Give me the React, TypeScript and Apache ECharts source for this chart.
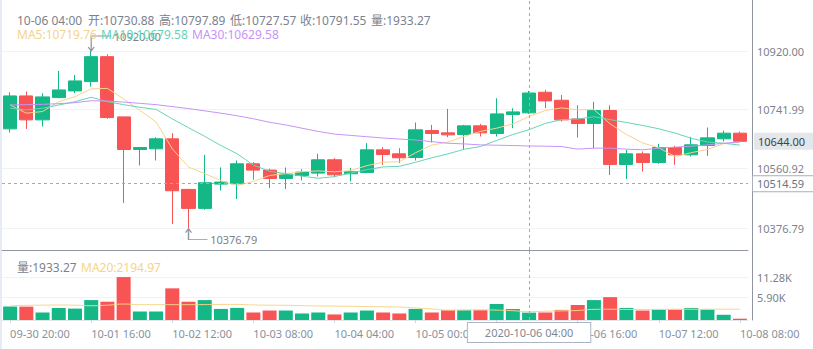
import React, { useEffect, useRef } from "react";
import * as echarts from "echarts";

const categories = [
  "2020-09-30 20:00", "2020-10-01 00:00", "2020-10-01 04:00", "2020-10-01 08:00", "2020-10-01 12:00",
  "2020-10-01 16:00", "2020-10-01 20:00", "2020-10-02 00:00", "2020-10-02 04:00", "2020-10-02 08:00",
  "2020-10-02 12:00", "2020-10-02 16:00", "2020-10-02 20:00", "2020-10-03 00:00", "2020-10-03 04:00",
  "2020-10-03 08:00", "2020-10-03 12:00", "2020-10-03 16:00", "2020-10-03 20:00", "2020-10-04 00:00",
  "2020-10-04 04:00", "2020-10-04 08:00", "2020-10-04 12:00", "2020-10-04 16:00", "2020-10-04 20:00",
  "2020-10-05 00:00", "2020-10-05 04:00", "2020-10-05 08:00", "2020-10-05 12:00", "2020-10-05 16:00",
  "2020-10-05 20:00", "2020-10-06 00:00", "2020-10-06 04:00", "2020-10-06 08:00", "2020-10-06 12:00",
  "2020-10-06 16:00", "2020-10-06 20:00", "2020-10-07 00:00", "2020-10-07 04:00", "2020-10-07 08:00",
  "2020-10-07 12:00", "2020-10-07 16:00", "2020-10-07 20:00", "2020-10-08 00:00", "2020-10-08 04:00",
  "2020-10-08 08:00",
];

const opens = [
  10682.0, 10782.7, 10709.5, 10777.6, 10798.0, 10826.4, 10902.7, 10718.6, 10618.9, 10621.0,
  10651.5, 10496.9, 10438.9, 10513.1, 10514.2, 10575.2, 10555.9, 10530.4, 10539.6, 10546.7,
  10587.4, 10544.7, 10548.8, 10617.9, 10605.7, 10594.5, 10676.9, 10669.8, 10664.7, 10691.2,
  10667.8, 10725.7, 10730.88, 10793.9, 10769.5, 10712.5, 10698.3, 10738.0, 10573.2, 10605.7,
  10579.3, 10625.0, 10602.7, 10631.1, 10651.5, 10668.8,
];
const closes = [
  10782.7, 10709.5, 10779.7, 10801.0, 10828.5, 10902.7, 10716.6, 10618.9, 10625.0, 10651.5,
  10492.8, 10438.9, 10517.2, 10519.3, 10575.2, 10555.9, 10530.4, 10543.7, 10549.8, 10587.4,
  10541.6, 10550.8, 10617.9, 10603.7, 10593.5, 10679.0, 10667.8, 10663.7, 10691.2, 10669.8,
  10727.8, 10733.9, 10791.55, 10767.5, 10709.5, 10698.3, 10738.0, 10573.2, 10605.7, 10579.3,
  10625.0, 10602.7, 10633.2, 10654.5, 10668.8, 10644.0,
];
const lows = [
  10670.8, 10682.0, 10689.1, 10776.0, 10790.8, 10811.2, 10712.5, 10455.2, 10570.1, 10585.4,
  10391.1, 10376.79, 10434.8, 10493.8, 10467.4, 10526.4, 10500.9, 10497.9, 10524.3, 10536.6,
  10534.5, 10521.3, 10546.0, 10572.1, 10577.2, 10585.4, 10640.3, 10656.6, 10617.9, 10658.6,
  10658.6, 10684.0, 10727.57, 10745.1, 10704.4, 10655.6, 10623.0, 10540.6, 10528.4, 10551.8,
  10575.2, 10572.1, 10597.6, 10599.6, 10643.3, 10641.0,
];
const highs = [
  10793.9, 10796.0, 10790.8, 10859.0, 10846.8, 10920.0, 10909.9, 10718.6, 10625.5, 10656.6,
  10668.8, 10499.0, 10602.6, 10564.0, 10585.4, 10580.3, 10560.0, 10564.0, 10558.9, 10605.7,
  10592.5, 10563.0, 10638.3, 10626.1, 10623.0, 10701.3, 10694.2, 10743.0, 10694.2, 10697.3,
  10775.6, 10745.1, 10797.89, 10801.0, 10785.8, 10754.2, 10764.4, 10754.2, 10617.9, 10612.8,
  10636.2, 10630.1, 10657.6, 10686.1, 10676.9, 10673.9,
];
const volumes = [
  3518, 3518, 1973, 3175, 3003, 5234, 4805, 11280, 2231, 2231,
  8317, 4805, 5234, 2917, 3175, 1973, 2488, 2488, 1716, 1973,
  1459, 1973, 2488, 1973, 1716, 2917, 1973, 2574, 2574, 2574,
  4204, 2917, 1933.27, 1973, 2660, 3947, 5234, 6006, 3175, 2488,
  2746, 2746, 3175, 2746, 1373, 343,
];
const ma5 = [
  10755, 10730, 10735, 10765, 10780.3, 10804.3, 10805.7, 10773.5, 10738.3, 10702.9,
  10621.0, 10565.4, 10545.1, 10523.9, 10508.7, 10521.3, 10539.6, 10544.9, 10551.0, 10553.4,
  10550.6, 10554.7, 10569.5, 10580.3, 10581.5, 10609.0, 10632.4, 10641.5, 10659.0, 10674.3,
  10684.1, 10697.3, 10719.76, 10738.1, 10746.1, 10740.2, 10741.0, 10697.3, 10664.9, 10638.9,
  10624.2, 10597.2, 10609.2, 10618.9, 10636.8, 10640.6,
];
const ma10 = [
  10745, 10740, 10745, 10755, 10765, 10778.7, 10765, 10756, 10748, 10741.6,
  10712.6, 10685.6, 10659.3, 10631.1, 10605.8, 10571.1, 10552.5, 10545.0, 10537.5, 10531.1,
  10535.9, 10547.1, 10557.2, 10565.6, 10567.5, 10579.8, 10593.5, 10605.5, 10619.7, 10627.9,
  10646.5, 10664.8, 10679.58, 10698.6, 10710.2, 10712.1, 10719.1, 10710.1, 10701.5, 10692.5,
  10682.2, 10669.1, 10653.2, 10641.9, 10637.9, 10632.4,
];
const ma30 = [
  10755, 10756, 10757, 10759, 10762, 10768, 10767, 10764, 10760, 10756,
  10750, 10744, 10737, 10730, 10722, 10713, 10702, 10694, 10684, 10674,
  10666, 10662, 10658, 10654, 10651, 10648, 10643, 10638, 10636, 10633,
  10632, 10631, 10629.58, 10629, 10628, 10620, 10623, 10623, 10620, 10618,
  10623, 10626, 10629, 10633, 10638, 10642,
];
const volMa20 = [
  3690, 3860, 3900, 3947, 3900, 3750, 3900, 4200, 4033, 4033,
  4033, 4033, 4050, 4100, 4100, 3947, 3900, 3861, 3770, 3690,
  3650, 3604, 3518, 3480, 3400, 3175, 2917, 2600, 2650, 2700,
  2600, 2450, 2194.97, 2300, 2400, 2500, 2800, 2830, 2780, 2780,
  2780, 2830, 2830, 2830, 2830, 2830,
];

const priceTicks = [10920.0, 10741.99, 10560.92, 10376.79];
const volumeTicks = [5900, 11280];
const priceRange = [10311.7, 11075.9];
const volumeRange = [0, 18400];

const CROSS_INDEX = 32;
const CROSS_PRICE = 10514.59;

const FONT = "'Noto Sans', 'Noto Sans CJK SC', sans-serif";
const UP = "#14b887";
const DOWN = "#f85454";
const C_MA5 = "#f5d38c";
const C_MA10 = "#66d4b9";
const C_MA30 = "#c793f7";
const C_MA20 = "#f5d48a";
const TEXT = "#7b828d";
const AXIS_DARK = "#8f96a1";
const SPLIT = "#f1f2f4";
const CROSS = "#9dabbf";

export default function App() {
  const ref = useRef<HTMLDivElement>(null);

  useEffect(() => {
    const chart = echarts.init(ref.current!, null, { renderer: "svg" });

    const maxHigh = Math.max(...highs);
    const maxIdx = highs.indexOf(maxHigh);
    const minLow = Math.min(...lows);
    const minIdx = lows.indexOf(minLow);
    const lastClose = closes[closes.length - 1];
    const i = CROSS_INDEX;

    const t = (text: string, x: number, y: number, fill: string) => ({
      type: "text",
      x,
      y,
      z: 100,
      silent: true,
      style: { text, fill, font: `12px ${FONT}`, verticalAlign: "middle", lineHeight: 13 },
    });

    const headerItems = [
      categories[i].slice(5),
      "开:" + opens[i].toFixed(2),
      "高:" + highs[i].toFixed(2),
      "低:" + lows[i].toFixed(2),
      "收:" + closes[i].toFixed(2),
      "量:" + volumes[i].toFixed(2),
    ];
    const headerX = [17, 88, 159, 230, 300, 371];

    const graphics: any[] = [
      { type: "rect", shape: { x: 0, y: 0, width: 2, height: 349 }, style: { fill: "#e7ecf4" }, silent: true },
      ...headerItems.map((s, k) => t(s, headerX[k], 20, TEXT)),
      t("MA5:" + ma5[i].toFixed(2), 17, 34, C_MA5),
      t("MA10:" + ma10[i].toFixed(2), 101, 34, C_MA10),
      t("MA30:" + ma30[i].toFixed(2), 192, 34, C_MA30),
      t("量:" + volumes[i].toFixed(2), 17, 267, TEXT),
      t("MA20:" + volMa20[i].toFixed(2), 81, 267, C_MA20),
    ];

    const markerLabel = { color: TEXT, fontSize: 11, fontFamily: FONT };
    const markerStyle = { color: "rgba(0,0,0,0)", borderColor: "#8e959f", borderWidth: 1 };

    const option: any = {
      animation: false,
      backgroundColor: "#ffffff",
      textStyle: { fontFamily: FONT },
      graphic: graphics,
      grid: [
        { left: 2, top: 0, width: 746, height: 250, outerBoundsMode: "none" },
        { left: 2, top: 250, width: 746, height: 70, outerBoundsMode: "none" },
      ],
      xAxis: [
        {
          type: "category",
          gridIndex: 0,
          data: categories,
          boundaryGap: true,
          axisLine: { show: true, onZero: false, lineStyle: { color: AXIS_DARK } },
          axisTick: { show: false },
          axisLabel: { show: false },
          splitLine: { show: false },
        },
        {
          type: "category",
          gridIndex: 1,
          data: categories,
          boundaryGap: true,
          axisLine: { show: true, onZero: false, lineStyle: { color: "#e2e5e9" } },
          axisTick: { show: true, alignWithLabel: true, interval: 4, length: 3, lineStyle: { color: "#cfd4da" } },
          axisLabel: {
            interval: 4,
            align: "left",
            color: "#8a919b",
            fontSize: 11,
            fontFamily: FONT,
            margin: 8,
            formatter: (v: string) => v.slice(5),
          },
          splitLine: { show: false },
        },
      ],
      yAxis: [
        {
          type: "value",
          gridIndex: 0,
          position: "right",
          offset: 4,
          min: priceRange[0],
          max: priceRange[1],
          axisLine: { show: true, lineStyle: { color: AXIS_DARK } },
          axisTick: { show: false, customValues: priceTicks },
          axisLabel: {
            customValues: priceTicks,
            formatter: (v: number) => v.toFixed(2),
            color: TEXT,
            fontSize: 11,
            fontFamily: FONT,
            margin: 5,
          },
          splitLine: { show: true, lineStyle: { color: SPLIT } },
        },
        {
          type: "value",
          gridIndex: 1,
          position: "right",
          offset: 4,
          min: volumeRange[0],
          max: volumeRange[1],
          axisLine: { show: true, lineStyle: { color: AXIS_DARK } },
          axisTick: { show: false, customValues: volumeTicks },
          axisLabel: {
            customValues: volumeTicks,
            formatter: (v: number) => (v / 1000).toFixed(2) + "K",
            color: TEXT,
            fontSize: 11,
            fontFamily: FONT,
            margin: 5,
          },
          splitLine: { show: true, lineStyle: { color: SPLIT } },
        },
      ],
      series: [
        {
          type: "candlestick",
          xAxisIndex: 0,
          yAxisIndex: 0,
          clip: false,
          barWidth: 13.6,
          data: categories.map((_, k) => [opens[k], closes[k], lows[k], highs[k]]),
          itemStyle: { color: UP, color0: DOWN, borderColor: UP, borderColor0: DOWN, borderWidth: 1 },
          markPoint: {
            silent: true,
            animation: false,
            data: [
              {
                coord: [categories[maxIdx], maxHigh],
                symbol: "path://M0,0L0,-15L20,-15M-3,-4L0,0L3,-4",
                symbolSize: [23, 15],
                symbolOffset: [8.5, -7.5],
                itemStyle: markerStyle,
                label: { show: true, position: "right", distance: 2, offset: [0, -7.5], formatter: maxHigh.toFixed(2), ...markerLabel },
              },
              {
                coord: [categories[minIdx], minLow],
                symbol: "path://M0,0L0,11L19,11M-3,4L0,0L3,4",
                symbolSize: [22, 11],
                symbolOffset: [8, 5.5],
                itemStyle: markerStyle,
                label: { show: true, position: "right", distance: 2, offset: [0, 5.5], formatter: minLow.toFixed(2), ...markerLabel },
              },
            ],
          },
          markLine: {
            silent: true,
            animation: false,
            symbol: ["none", "none"],
            data: [
              {
                yAxis: lastClose,
                lineStyle: { color: "rgba(255,255,255,0)", width: 1, type: "solid" },
                label: {
                  show: true,
                  position: "end",
                  distance: 6,
                  formatter: lastClose.toFixed(2),
                  backgroundColor: "#e3e6ea",
                  color: "#3c434d",
                  padding: [3, 12, 3, 4],
                  fontSize: 11,
                  fontFamily: FONT,
                },
              },
              {
                yAxis: CROSS_PRICE,
                lineStyle: { type: [3, 3], color: CROSS, width: 1 },
                label: {
                  show: true,
                  position: "end",
                  distance: 5,
                  formatter: CROSS_PRICE.toFixed(2),
                  backgroundColor: "#ffffff",
                  borderColor: "#a7afbb",
                  borderWidth: 1,
                  color: "#6b7380",
                  padding: [2, 12, 2, 4],
                  fontSize: 11,
                  fontFamily: FONT,
                },
              },
              {
                xAxis: categories[CROSS_INDEX],
                lineStyle: { type: [3, 3], color: CROSS, width: 1 },
                label: { show: false },
              },
            ],
          },
        },
        {
          type: "line",
          name: "MA5",
          xAxisIndex: 0,
          yAxisIndex: 0,
          data: ma5,
          showSymbol: false,
          symbol: "none",
          lineStyle: { width: 1, color: C_MA5 },
        },
        {
          type: "line",
          name: "MA10",
          xAxisIndex: 0,
          yAxisIndex: 0,
          data: ma10,
          showSymbol: false,
          symbol: "none",
          lineStyle: { width: 1, color: C_MA10 },
        },
        {
          type: "line",
          name: "MA30",
          xAxisIndex: 0,
          yAxisIndex: 0,
          data: ma30,
          showSymbol: false,
          symbol: "none",
          lineStyle: { width: 1, color: C_MA30 },
        },
        {
          type: "bar",
          xAxisIndex: 1,
          yAxisIndex: 1,
          clip: false,
          barWidth: 14,
          data: volumes.map((v, k) => ({
            value: v,
            itemStyle: { color: closes[k] >= opens[k] ? UP : DOWN },
          })),
          markLine: {
            silent: true,
            animation: false,
            symbol: ["none", "none"],
            data: [
              {
                xAxis: categories[CROSS_INDEX],
                lineStyle: { type: [3, 3], color: CROSS, width: 1 },
                label: {
                  show: true,
                  position: "start",
                  distance: 3,
                  formatter: categories[CROSS_INDEX],
                  backgroundColor: "#ffffff",
                  borderColor: "#aab4c5",
                  borderWidth: 1,
                  color: "#7f8794",
                  padding: [4, 17],
                  fontSize: 11,
                  fontFamily: FONT,
                },
              },
            ],
          },
        },
        {
          type: "line",
          name: "MA20",
          xAxisIndex: 1,
          yAxisIndex: 1,
          data: volMa20,
          showSymbol: false,
          symbol: "none",
          smooth: true,
          lineStyle: { width: 1, color: C_MA20 },
        },
      ],
    };

    chart.setOption(option);
    return () => chart.dispose();
  }, []);

  return (
    <div
      ref={ref}
      style={{ position: "fixed", left: 0, top: 0, width: 813, height: 349, background: "#ffffff" }}
    />
  );
}
